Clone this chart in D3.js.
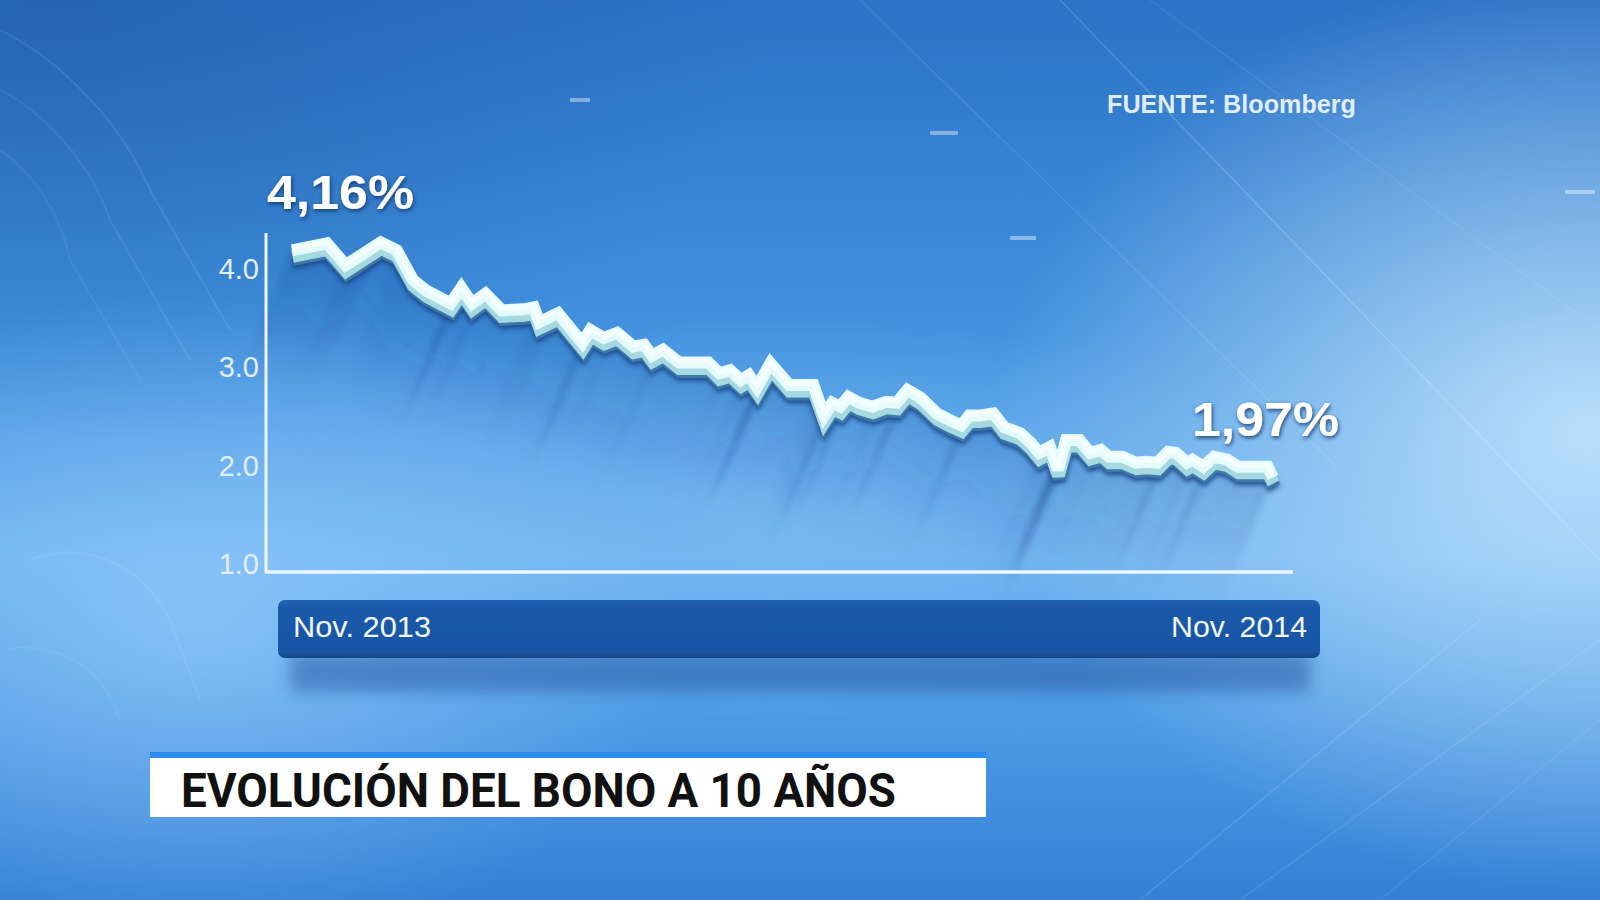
<!DOCTYPE html>
<html><head><meta charset="utf-8">
<script src="https://cdn.jsdelivr.net/npm/d3@7"></script>
<style>
html,body{margin:0;padding:0;overflow:hidden;background:#3a86d8;}
svg{display:block;}
</style></head>
<body>
<svg id="chart" width="1600" height="900"></svg>
<script>
// ---------- data ----------
const dates = ["2013-11-18","2013-12-01","2013-12-08","2013-12-21","2013-12-27","2014-01-02","2014-01-07","2014-01-16","2014-01-20","2014-01-24","2014-01-29","2014-02-04","2014-02-12","2014-02-16","2014-02-18","2014-02-25","2014-03-06","2014-03-09","2014-03-14","2014-03-19","2014-03-25","2014-03-29","2014-04-01","2014-04-05","2014-04-11","2014-04-22","2014-04-26","2014-04-30","2014-05-04","2014-05-07","2014-05-10","2014-05-15","2014-05-22","2014-05-31","2014-06-04","2014-06-07","2014-06-10","2014-06-13","2014-06-17","2014-06-22","2014-06-27","2014-07-01","2014-07-05","2014-07-10","2014-07-16","2014-07-21","2014-07-25","2014-07-28","2014-08-01","2014-08-06","2014-08-10","2014-08-13","2014-08-16","2014-08-20","2014-08-23","2014-08-27","2014-08-30","2014-09-02","2014-09-07","2014-09-11","2014-09-15","2014-09-18","2014-09-23","2014-09-28","2014-10-02","2014-10-06","2014-10-10","2014-10-13","2014-10-17","2014-10-19","2014-10-23","2014-10-27","2014-11-01","2014-11-05","2014-11-11","2014-11-16","2014-11-18"];
const yields = [4.18,4.25,4.03,4.26,4.18,3.88,3.77,3.64,3.80,3.64,3.74,3.57,3.58,3.60,3.45,3.54,3.24,3.37,3.29,3.34,3.20,3.22,3.11,3.17,3.04,3.04,2.93,2.96,2.86,2.91,2.79,3.03,2.81,2.81,2.50,2.63,2.59,2.69,2.63,2.59,2.64,2.63,2.76,2.68,2.52,2.45,2.40,2.50,2.50,2.52,2.38,2.35,2.32,2.22,2.12,2.18,1.95,2.25,2.25,2.12,2.15,2.08,2.08,2.02,2.03,2.02,2.13,2.12,2.02,2.05,1.98,2.08,2.05,1.98,1.98,1.98,1.87];
const yTicks = [1, 2, 3, 4];
const xLabels = ["Nov. 2013", "Nov. 2014"];
const startLabel = "4,16%";
const endLabel = "1,97%";
const sourceText = "FUENTE: Bloomberg";
const titleText = "EVOLUCIÓN DEL BONO A 10 AÑOS";

const parse = d3.timeParse("%Y-%m-%d");
const data = dates.map((d, i) => ({date: parse(d), value: yields[i]}));

const svg = d3.select("#chart");
const defs = svg.append("defs");

// ---------- background ----------
const bg = defs.append("linearGradient").attr("id","bgGrad").attr("x1",0).attr("y1",0).attr("x2",0).attr("y2",1);
[["0%","#2c72c6"],["35%","#4190dd"],["62%","#66aff0"],["78%","#509de6"],["100%","#3580d6"]]
  .forEach(s => bg.append("stop").attr("offset",s[0]).attr("stop-color",s[1]));
function radial(id, color, op){
  const g = defs.append("radialGradient").attr("id",id);
  g.append("stop").attr("offset","0%").attr("stop-color",color).attr("stop-opacity",op);
  g.append("stop").attr("offset","100%").attr("stop-color",color).attr("stop-opacity",0);
}
radial("glowR","#d4eeff",0.8);
radial("glowL","#a6d6ff",0.55);
radial("darkTL","#1a559f",0.45);
radial("glowC","#8cc8f8",0.45);

svg.append("rect").attr("width",1600).attr("height",900).attr("fill","url(#bgGrad)");
svg.append("ellipse").attr("cx",1590).attr("cy",430).attr("rx",600).attr("ry",460).attr("fill","url(#glowR)");
svg.append("ellipse").attr("cx",200).attr("cy",620).attr("rx",480).attr("ry",330).attr("fill","url(#glowL)");
svg.append("ellipse").attr("cx",780).attr("cy",520).attr("rx",620).attr("ry",200).attr("fill","url(#glowC)");
svg.append("ellipse").attr("cx",60).attr("cy",20).attr("rx",700).attr("ry",420).attr("fill","url(#darkTL)");

// decorative faint lines
const deco = svg.append("g").attr("fill","none").attr("stroke","#ffffff");
[[1060,0,1600,560,0.16],[860,0,1340,470,0.09],[1150,0,1600,330,0.07],[1140,900,1480,620,0.12],[1240,900,1600,640,0.10],[1380,900,1600,720,0.08]]
  .forEach(l => deco.append("line").attr("x1",l[0]).attr("y1",l[1]).attr("x2",l[2]).attr("y2",l[3]).attr("stroke-opacity",l[4]).attr("stroke-width",1.5));
[["M0,30 C60,60 120,120 150,190 L230,330",0.09],["M0,90 C40,110 90,160 110,220 L190,360",0.07],["M0,150 C30,170 60,210 70,260 L140,380",0.06],
 ["M30,560 C80,540 140,560 170,620 L200,700",0.07],["M0,650 C50,640 100,660 120,720",0.06]]
  .forEach(p => deco.append("path").attr("d",p[0]).attr("stroke-opacity",p[1]).attr("stroke-width",2));
[[930,133,958,133],[1010,238,1036,238],[1565,192,1595,192],[570,100,590,100]]
  .forEach(l => deco.append("line").attr("x1",l[0]).attr("y1",l[1]).attr("x2",l[2]).attr("y2",l[3]).attr("stroke-opacity",0.4).attr("stroke-width",4));

// ---------- scales ----------
const x = d3.scaleTime().domain([parse("2013-11-18"), parse("2014-11-18")]).range([292, 1273]);
const y = d3.scaleLinear().domain([1, 4]).range([563, 268]);
const line = d3.line().x(d => x(d.date)).y(d => y(d.value)).curve(d3.curveLinear);
const pathD = line(data);

// ---------- shadow streaks ----------
defs.append("filter").attr("id","blur3").attr("x","-20%").attr("y","-20%").attr("width","140%").attr("height","160%")
  .append("feGaussianBlur").attr("stdDeviation",3);
defs.append("filter").attr("id","blur2").attr("x","-20%").attr("y","-20%").attr("width","140%").attr("height","160%")
  .append("feGaussianBlur").attr("stdDeviation",2);
defs.append("filter").attr("id","blur8").attr("x","-20%").attr("y","-50%").attr("width","140%").attr("height","200%")
  .append("feGaussianBlur").attr("stdDeviation",8);
const sh = svg.append("g").attr("filter","url(#blur3)");
for (let k = 4; k <= 130; k += 3) {
  sh.append("path").attr("d", pathD).attr("fill","none")
    .attr("stroke","#12357e").attr("stroke-width",5)
    .attr("stroke-opacity", 0.11 * Math.pow(1 - k/140, 1.3))
    .attr("transform", `translate(${-0.42*k},${k})`);
}

// ---------- axes ----------
const axisG = svg.append("g");
axisG.append("line").attr("x1",266).attr("x2",266).attr("y1",233).attr("y2",573)
  .attr("stroke","#eef7ff").attr("stroke-width",3);
axisG.append("line").attr("x1",265).attr("x2",1293).attr("y1",572).attr("y2",572)
  .attr("stroke","#eef7ff").attr("stroke-width",3.5);

const yAxis = svg.append("g").attr("transform","translate(259,0)")
  .call(d3.axisLeft(y).tickValues(yTicks).tickFormat(d3.format(".1f")).tickSize(0).tickPadding(0));
yAxis.select(".domain").remove();
yAxis.selectAll("text").attr("fill","#e2eef9").attr("font-family","Liberation Sans, Arial, sans-serif")
  .attr("font-size",29).attr("dy","0.36em");

// ---------- ribbon line ----------
const rib = svg.append("g").attr("fill","none").attr("stroke-linejoin","miter").attr("stroke-miterlimit",3).attr("stroke-linecap","butt");
rib.append("path").attr("d",pathD).attr("stroke","#183f82").attr("stroke-width",13).attr("stroke-opacity",0.8)
  .attr("transform","translate(1,12)").attr("filter","url(#blur2)");
rib.append("path").attr("d",pathD).attr("stroke","#3b7aa8").attr("stroke-width",13).attr("transform","translate(1,9)");
rib.append("path").attr("d",pathD).attr("stroke","#a6d8e2").attr("stroke-width",13).attr("transform","translate(0.5,6)");
rib.append("path").attr("d",pathD).attr("stroke","#e4fafb").attr("stroke-width",12);
rib.append("path").attr("d",pathD).attr("stroke","#ffffff").attr("stroke-width",5).attr("stroke-opacity",0.55).attr("transform","translate(0,-1.5)");

// ---------- value labels ----------
const ds = defs.append("filter").attr("id","txtShadow").attr("x","-20%").attr("y","-30%").attr("width","140%").attr("height","170%");
ds.append("feDropShadow").attr("dx",1).attr("dy",2).attr("stdDeviation",2).attr("flood-color","#0b2f66").attr("flood-opacity",0.85);
function bigLabel(txt, xPos, yPos){
  svg.append("text").attr("x",xPos).attr("y",yPos).text(txt)
    .attr("font-family","Liberation Sans, Arial, sans-serif").attr("font-weight","bold").attr("font-size",48)
    .attr("fill","#ffffff").attr("textLength",147).attr("lengthAdjust","spacingAndGlyphs").attr("filter","url(#txtShadow)");
}
bigLabel(startLabel, 267, 209);
bigLabel(endLabel, 1192, 436);

// source
svg.append("text").attr("x",1107).attr("y",113).text(sourceText)
  .attr("font-family","Liberation Sans, Arial, sans-serif").attr("font-weight","bold").attr("font-size",26)
  .attr("fill","#eaf4ff").attr("fill-opacity",0.95).attr("textLength",249).attr("lengthAdjust","spacingAndGlyphs");

// ---------- date bar ----------
svg.append("rect").attr("x",290).attr("y",652).attr("width",1020).attr("height",40).attr("fill","#1a4c96")
  .attr("opacity",0.45).attr("filter","url(#blur8)");
const barGrad = defs.append("linearGradient").attr("id","barGrad").attr("x1",0).attr("y1",0).attr("x2",0).attr("y2",1);
[["0%","#2064b4"],["12%","#1a59a9"],["88%","#1855a4"],["100%","#134887"]].forEach(s => barGrad.append("stop").attr("offset",s[0]).attr("stop-color",s[1]));
svg.append("rect").attr("x",278).attr("y",600).attr("width",1042).attr("height",58).attr("rx",7).attr("fill","url(#barGrad)");
svg.append("text").attr("x",293).attr("y",637).text(xLabels[0])
  .attr("font-family","Liberation Sans, Arial, sans-serif").attr("font-size",30).attr("fill","#f2f8ff")
  .attr("textLength",138).attr("lengthAdjust","spacingAndGlyphs");
svg.append("text").attr("x",1307).attr("y",637).attr("text-anchor","end").text(xLabels[1])
  .attr("font-family","Liberation Sans, Arial, sans-serif").attr("font-size",30).attr("fill","#f2f8ff")
  .attr("textLength",136).attr("lengthAdjust","spacingAndGlyphs");

// ---------- title box ----------
svg.append("rect").attr("x",150).attr("y",752).attr("width",836).attr("height",7).attr("fill","#2c8cf0");
svg.append("rect").attr("x",150).attr("y",758).attr("width",836).attr("height",59).attr("fill","#ffffff");
svg.append("text").attr("x",181).attr("y",807).text(titleText)
  .attr("font-family","Roboto, Liberation Sans, Arial, sans-serif").attr("font-weight","bold").attr("font-size",49)
  .attr("fill","#111111").attr("textLength",715).attr("lengthAdjust","spacingAndGlyphs");
</script>
</body></html>
